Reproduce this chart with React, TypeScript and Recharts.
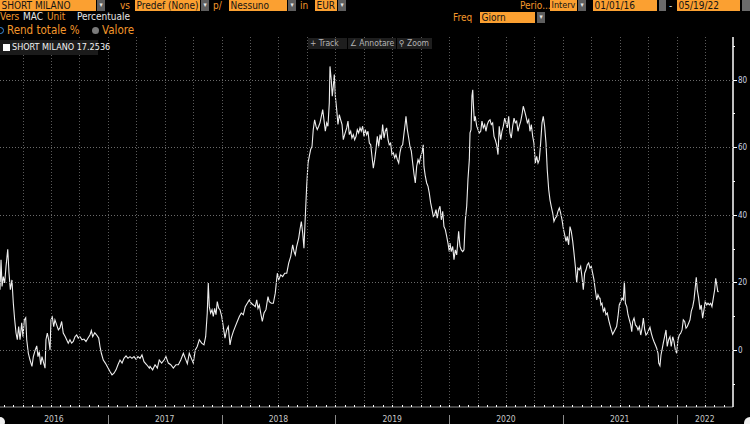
import React from 'react';
import { LineChart, Line, XAxis, YAxis } from 'recharts';

const FONT = '"Liberation Sans Narrow", "DejaVu Sans Condensed", "Arial Narrow", "Liberation Sans", Arial, sans-serif';
const ORANGE = '#fba031';
const ORANGE_TEXT = '#f3972b';

const SERIES_NAME = 'SHORT MILANO';
const LAST_VALUE = '17.2536';

// [decimal year, total return %]
const P2016: [number, number][] = [
  [2016.052, 17.8], [2016.061, 26.7], [2016.070, 18.8], [2016.081, 21.7], [2016.093, 19.8], [2016.105, 24.7],
  [2016.120, 29.8], [2016.131, 22.8], [2016.143, 17.8], [2016.157, 20.7], [2016.169, 13.9], [2016.181, 8.9],
  [2016.193, 5], [2016.204, 3], [2016.216, 6.9], [2016.228, 3], [2016.243, 8], [2016.254, 3.9],
  [2016.266, 8.9], [2016.278, 9.5], [2016.287, 3], [2016.301, -1], [2016.316, -3], [2016.333, -4.9],
  [2016.345, -2], [2016.362, 0], [2016.375, 1.2], [2016.386, -2], [2016.397, -0.5], [2016.410, -4.4],
  [2016.421, -2], [2016.436, -3.9], [2016.448, -5.4], [2016.456, 3], [2016.468, 5], [2016.480, 3],
  [2016.492, 0], [2016.500, 8.9], [2016.512, 9.7], [2016.524, 6.9], [2016.535, 8.9], [2016.550, 7.4],
  [2016.565, 5.9], [2016.579, 6.5], [2016.594, 8.4], [2016.608, 5], [2016.626, 3.9], [2016.638, 3],
  [2016.652, 2], [2016.667, 3], [2016.682, 2], [2016.696, 2.5], [2016.711, 3.9], [2016.726, 4.4],
  [2016.740, 3.5], [2016.755, 3.9], [2016.773, 3], [2016.790, 3.2], [2016.808, 2.5], [2016.826, 3.5],
  [2016.843, 4.4], [2016.855, 5.7], [2016.867, 3.9], [2016.885, 5.1], [2016.902, 4.4], [2016.920, 3.5],
  [2016.931, 1], [2016.943, -1], [2016.960, -3], [2016.978, -3.9], [2016.995, -4.9],
];

const P2017: [number, number][] = [
  [2017.019, -6.4], [2017.037, -7.4], [2017.054, -6.9], [2017.072, -5.9], [2017.089, -4.4], [2017.107, -3],
  [2017.125, -3.9], [2017.142, -2.5], [2017.160, -1.8], [2017.177, -2.5], [2017.195, -2], [2017.212, -2.5],
  [2017.230, -2], [2017.248, -2.8], [2017.265, -2], [2017.283, -2.5], [2017.300, -1.5], [2017.318, -3.5],
  [2017.342, -4.4], [2017.365, -5.4], [2017.371, -4.9], [2017.394, -5.9], [2017.415, -4.4], [2017.435, -5.4],
  [2017.452, -3], [2017.473, -3.9], [2017.494, -3], [2017.511, -2], [2017.532, -3.9], [2017.553, -4.4],
  [2017.576, -5.4], [2017.599, -4.4], [2017.620, -4.4], [2017.641, -3], [2017.664, -1], [2017.681, -2.5],
  [2017.699, -4.1], [2017.716, -1], [2017.734, -2.5], [2017.751, -3.9], [2017.769, 0], [2017.786, 1],
  [2017.804, 3], [2017.825, 2], [2017.845, 1.5], [2017.860, 3.9], [2017.874, 10.9], [2017.883, 19.8],
  [2017.892, 12.8], [2017.904, 10.9], [2017.916, 11.9], [2017.927, 9.9], [2017.939, 12.3], [2017.951, 10.4],
  [2017.962, 14.3], [2017.975, 12.3], [2017.986, 11.9],
];

const P2018: [number, number][] = [
  [2018.001, 9.9], [2018.015, 6.9], [2018.030, 3.5], [2018.045, 5.9], [2018.059, 6.9], [2018.074, 1.5],
  [2018.085, 3.5], [2018.103, 5.4], [2018.120, 6.9], [2018.138, 8.4], [2018.156, 9.9], [2018.173, 10.9],
  [2018.191, 10.4], [2018.208, 12.8], [2018.226, 13.8], [2018.244, 14.8], [2018.261, 13.8], [2018.279, 13.3],
  [2018.296, 12.8], [2018.309, 14.8], [2018.320, 12.3], [2018.332, 13.3], [2018.344, 10.9], [2018.358, 8.4],
  [2018.373, 10.9], [2018.390, 11.9], [2018.408, 15.8], [2018.419, 14.3], [2018.437, 13.8], [2018.455, 13.8],
  [2018.472, 16.8], [2018.490, 22.7], [2018.502, 20.7], [2018.520, 22.2], [2018.537, 21.7], [2018.555, 22.7],
  [2018.573, 22.7], [2018.590, 25.7], [2018.608, 27.7], [2018.625, 31.1], [2018.637, 29.1], [2018.648, 28.1],
  [2018.660, 30.6], [2018.678, 33.1], [2018.689, 35.6], [2018.701, 38], [2018.713, 34.6], [2018.724, 30.1],
  [2018.736, 39.5], [2018.748, 48.4], [2018.760, 55.3], [2018.771, 57.3], [2018.783, 59.3], [2018.795, 60.2],
  [2018.806, 65.2], [2018.818, 68.1], [2018.830, 66.2], [2018.841, 65.2], [2018.854, 66.2], [2018.865, 67.2],
  [2018.877, 69.1], [2018.889, 71.1], [2018.900, 68.1], [2018.912, 64.7], [2018.924, 67.2], [2018.935, 66.2],
  [2018.947, 73.1], [2018.953, 83.9], [2018.964, 80], [2018.973, 75.1], [2018.982, 78], [2018.991, 81.5],
];

const P2019: [number, number][] = [
  [2019.000, 75.1], [2019.012, 71.1], [2019.023, 66.7], [2019.035, 69.6], [2019.047, 68.1], [2019.059, 66.7],
  [2019.070, 62.2], [2019.082, 63.7], [2019.100, 65.7], [2019.111, 67.7], [2019.123, 63.7], [2019.135, 64.7],
  [2019.146, 62.7], [2019.158, 63.7], [2019.170, 62.2], [2019.182, 63.2], [2019.193, 65.2], [2019.205, 64.2],
  [2019.217, 65.7], [2019.228, 64.7], [2019.240, 66.2], [2019.252, 63.2], [2019.263, 65.2], [2019.276, 63.7],
  [2019.287, 64.7], [2019.299, 61.2], [2019.311, 60.7], [2019.322, 57.3], [2019.334, 53.8], [2019.346, 56.3],
  [2019.357, 59.3], [2019.369, 63.2], [2019.381, 60.2], [2019.393, 63.7], [2019.404, 62.2], [2019.416, 66.7],
  [2019.428, 62.7], [2019.439, 64.7], [2019.451, 65.7], [2019.463, 62.2], [2019.474, 60.7], [2019.486, 61.2],
  [2019.498, 57.8], [2019.510, 58.3], [2019.522, 56.8], [2019.533, 57.8], [2019.545, 56.3], [2019.557, 55.3],
  [2019.568, 58.3], [2019.580, 60.2], [2019.592, 60.7], [2019.604, 64.2], [2019.615, 67.2], [2019.621, 69.1],
  [2019.633, 65.2], [2019.645, 62.7], [2019.656, 60.2], [2019.668, 58.8], [2019.680, 55.3], [2019.692, 51.9],
  [2019.703, 49.4], [2019.715, 54.3], [2019.727, 56.3], [2019.738, 55.3], [2019.750, 57.3], [2019.762, 58.3],
  [2019.773, 60.7], [2019.779, 54.3], [2019.791, 51.4], [2019.803, 49.4], [2019.815, 48.4], [2019.826, 46.4],
  [2019.838, 43.5], [2019.850, 41.5], [2019.861, 39.5], [2019.873, 40], [2019.885, 41.5], [2019.896, 39],
  [2019.909, 41.5], [2019.920, 42.5], [2019.932, 38.5], [2019.944, 41], [2019.955, 36.5], [2019.967, 35.6],
  [2019.979, 33.6], [2019.990, 31.6],
];

const P2020: [number, number][] = [
  [2020.002, 29.1], [2020.008, 31.6], [2020.019, 29.1], [2020.032, 30.6], [2020.043, 26.7], [2020.055, 29.6],
  [2020.067, 28.1], [2020.078, 32.6], [2020.084, 35.1], [2020.096, 30.6], [2020.107, 29.6], [2020.120, 29.1],
  [2020.131, 29.6], [2020.143, 38.5], [2020.155, 42.5], [2020.166, 50.4], [2020.178, 56.3], [2020.184, 64.2],
  [2020.193, 65.2], [2020.201, 75.1], [2020.208, 77], [2020.213, 73.1], [2020.222, 67.7], [2020.230, 69.1],
  [2020.243, 66.2], [2020.254, 65.2], [2020.266, 64.2], [2020.278, 64.7], [2020.289, 67.7], [2020.301, 65.7],
  [2020.313, 66.7], [2020.324, 64.7], [2020.336, 66.7], [2020.348, 67.7], [2020.360, 68.1], [2020.371, 66.7],
  [2020.383, 67.2], [2020.395, 63.2], [2020.406, 62.2], [2020.418, 60.7], [2020.430, 57.8], [2020.441, 66.2],
  [2020.454, 62.2], [2020.465, 64.7], [2020.477, 66.2], [2020.489, 68.6], [2020.500, 67.2], [2020.512, 65.7],
  [2020.524, 69.1], [2020.535, 64.2], [2020.547, 62.7], [2020.559, 66.2], [2020.571, 68.6], [2020.582, 67.2],
  [2020.594, 67.7], [2020.606, 64.7], [2020.617, 66.2], [2020.630, 67.7], [2020.641, 69.6], [2020.652, 72.1],
  [2020.665, 70.6], [2020.676, 69.1], [2020.688, 67.2], [2020.700, 68.1], [2020.711, 64.7], [2020.723, 66.7],
  [2020.735, 63.2], [2020.746, 61.2], [2020.758, 55.3], [2020.770, 57.3], [2020.782, 55.3], [2020.793, 56.3],
  [2020.805, 61.2], [2020.817, 67.2], [2020.828, 69.1], [2020.840, 66.2], [2020.852, 61.2], [2020.863, 53.3],
  [2020.876, 47.4], [2020.887, 44.4], [2020.898, 42.5], [2020.911, 40.5], [2020.922, 38], [2020.934, 39],
  [2020.946, 39.5], [2020.957, 41], [2020.969, 42], [2020.981, 40.5], [2020.993, 38.5],
];

const P2021: [number, number][] = [
  [2021.004, 36], [2021.016, 34.1], [2021.028, 32.1], [2021.039, 33.6], [2021.051, 31.1], [2021.063, 36.5],
  [2021.074, 35.1], [2021.087, 32.1], [2021.098, 28.7], [2021.110, 24.7], [2021.122, 19.8], [2021.133, 24.2],
  [2021.145, 23.7], [2021.157, 24.7], [2021.168, 21.7], [2021.180, 17.8], [2021.192, 22.7], [2021.204, 23.7],
  [2021.215, 25.2], [2021.227, 25.7], [2021.239, 24.2], [2021.250, 24.7], [2021.262, 22.7], [2021.274, 20.7],
  [2021.285, 17.8], [2021.298, 14.8], [2021.309, 16.3], [2021.321, 15.3], [2021.327, 15.3], [2021.335, 13.3],
  [2021.344, 13.8], [2021.356, 11.4], [2021.368, 12.3], [2021.379, 10.4], [2021.391, 10.9], [2021.403, 8.9],
  [2021.414, 7.4], [2021.426, 5.9], [2021.438, 4.6], [2021.450, 5.4], [2021.461, 6.1], [2021.473, 6.9],
  [2021.485, 9.9], [2021.496, 13.3], [2021.509, 14.3], [2021.520, 15.3], [2021.532, 14.8], [2021.541, 20.2],
  [2021.550, 13.8], [2021.562, 12.8], [2021.573, 10.4], [2021.585, 8.9], [2021.597, 7.4], [2021.606, 5.4],
  [2021.614, 8.4], [2021.626, 9.4], [2021.638, 7.4], [2021.650, 6.9], [2021.661, 5.9], [2021.673, 6.9],
  [2021.685, 4.4], [2021.696, 6.4], [2021.708, 9.4], [2021.720, 5.9], [2021.731, 4.4], [2021.743, 4.9],
  [2021.755, 5.9], [2021.766, 6.7], [2021.778, 4.9], [2021.790, 3.5], [2021.801, 2.5], [2021.813, 1.5],
  [2021.825, 0.5], [2021.837, -1], [2021.843, -3.9], [2021.854, -4.7], [2021.863, -1.5], [2021.872, 0],
  [2021.883, 2], [2021.895, 3.9], [2021.907, 5.9], [2021.918, 1], [2021.930, 3], [2021.942, 3.9],
  [2021.953, 1], [2021.966, 3.9], [2021.977, 2.5], [2021.989, 0],
];

const P2022: [number, number][] = [
  [2022.001, -1], [2022.012, 3], [2022.024, 4.4], [2022.036, 4.9], [2022.048, 5.9], [2022.059, 8.9],
  [2022.071, 8.4], [2022.083, 6.4], [2022.094, 6.9], [2022.106, 7.9], [2022.118, 8.9], [2022.129, 11.4],
  [2022.142, 12.8], [2022.153, 14.8], [2022.165, 18.8], [2022.173, 21.5], [2022.182, 17.8], [2022.194, 15.3],
  [2022.206, 11.9], [2022.217, 13.3], [2022.229, 9.4], [2022.241, 11.9], [2022.252, 14.3], [2022.265, 13.3],
  [2022.276, 13.8], [2022.288, 13.3], [2022.300, 13.8], [2022.311, 12.8], [2022.323, 15.3], [2022.335, 17.8],
  [2022.344, 21.2], [2022.353, 19.3], [2022.362, 17.3], [2022.370, 17.2536],
];

const YEARS = [2016, 2017, 2018, 2019, 2020, 2021, 2022];
const YEAR_LABELS = ['2016', '2017', '2018', '2019', '2020', '2021', '2022'];
const Y_TICKS = [-10, 0, 10, 20, 30, 40, 50, 60, 70, 80, 90];
const Y_LABELED = [0, 20, 40, 60, 80];
const X_DOMAIN: [number, number] = [2016.052, 2022.496];
const Y_DOMAIN: [number, number] = [-16.9, 92.6];

// layout constants (pixels)
const CHART_W = 750;
const CHART_H = 424;
const PLOT_TOP = 37;
const Y_AXIS_W = 17;
const X_AXIS_H = 17;
const PLOT_W = CHART_W - Y_AXIS_W;
const PLOT_H = CHART_H - PLOT_TOP - X_AXIS_H;

const data = [...P2016, ...P2017, ...P2018, ...P2019, ...P2020, ...P2021, ...P2022].map(([t, v]) => ({ t, v }));

type TickInfo = { kind: 'month'; month: number } | { kind: 'label'; text: string };
const tickInfo = new Map<number, TickInfo>();
const monthTicks: number[] = [];
YEARS.forEach((yr) => {
  for (let m = 0; m < 12; m++) {
    const t = yr + m / 12;
    if (t >= X_DOMAIN[0] && t <= X_DOMAIN[1]) {
      monthTicks.push(t);
      tickInfo.set(t, { kind: 'month', month: m });
    }
  }
});
const labelTicks: number[] = [];
YEARS.forEach((yr, i) => {
  const a = Math.max(yr, X_DOMAIN[0]);
  const b = Math.min(yr + 1, X_DOMAIN[1]);
  const mid = (a + b) / 2 + 0.0001;
  labelTicks.push(mid);
  tickInfo.set(mid, { kind: 'label', text: YEAR_LABELS[i] });
});
const X_TICKS = [...monthTicks, ...labelTicks].sort((a, b) => a - b);

const XTick = (props: any) => {
  const { x, y, payload } = props;
  const info = tickInfo.get(payload.value);
  if (!info) return null;
  if (info.kind === 'label') {
    return (
      <text x={x} y={y + 15} textAnchor="middle" fill="#c8c8c8" fontSize={8.5} fontFamily={FONT}>
        {info.text}
      </text>
    );
  }
  const px = Math.round(x) + 0.5;
  return (
    <g>
      {info.month % 3 === 0 && (
        <line x1={px} x2={px} y1={y - PLOT_H} y2={y} stroke="#5a5a5a" strokeDasharray="1 2" strokeWidth={1} />
      )}
      <line x1={px} x2={px} y1={y - 2} y2={y} stroke="#ffffff" strokeWidth={1} />
      {info.month === 0 && <line x1={px} x2={px} y1={y + 8} y2={y + 17} stroke="#8a8a8a" strokeWidth={1} />}
    </g>
  );
};

const YTick = (props: any) => {
  const { x, y, payload } = props;
  const major = Y_LABELED.includes(payload.value);
  const py = Math.round(y) + 0.5;
  return (
    <g>
      {major && (
        <line x1={x - PLOT_W} x2={x} y1={py} y2={py} stroke="#6a6a6a" strokeDasharray="1 2" strokeWidth={1} />
      )}
      <line x1={x} x2={x + (major ? 4 : 2)} y1={py} y2={py} stroke="#ffffff" strokeWidth={1} />
      {major && (
        <text x={x + 5} y={y + 3} fill="#cdd5e3" fontSize={8} fontFamily={FONT}>
          {payload.value}
        </text>
      )}
    </g>
  );
};

const abs = (x: number, y: number, w: number, h: number): React.CSSProperties => ({
  position: 'absolute', left: x, top: y, width: w, height: h,
});

const Box = ({ x, y, w, text, size = 10 }: { x: number; y: number; w: number; text: string; size?: number }) => (
  <div style={{ ...abs(x, y, w, 11), background: ORANGE, color: '#141414', fontSize: size, lineHeight: '11px', paddingLeft: 1.5, boxSizing: 'border-box', whiteSpace: 'nowrap', overflow: 'hidden' }}>{text}</div>
);
const Btn = ({ x, y }: { x: number; y: number }) => (
  <div style={{ ...abs(x, y, 8, 11), background: '#5e5e5e', color: '#e8e8e8', fontSize: 7, lineHeight: '11px', textAlign: 'center' }}>▾</div>
);
const Lbl = ({ x, y, text, color, size = 10 }: { x: number; y: number; text: string; color: string; size?: number }) => (
  <div style={{ position: 'absolute', left: x, top: y, color, fontSize: size, lineHeight: '11px', whiteSpace: 'nowrap' }}>{text}</div>
);

export default function App() {
  return (
    <div style={{ position: 'absolute', left: 0, top: 0, width: CHART_W, height: CHART_H, background: '#000', overflow: 'hidden', fontFamily: FONT }}>
      <LineChart width={CHART_W} height={CHART_H} data={data} margin={{ top: PLOT_TOP, right: 0, bottom: 0, left: 0 }}>
        <XAxis
          dataKey="t" type="number" domain={X_DOMAIN} ticks={X_TICKS} interval={0}
          height={X_AXIS_H} tickSize={0} tickMargin={0} tick={<XTick />}
          axisLine={{ stroke: '#8c8c8c', strokeWidth: 1 }} tickLine={false} allowDataOverflow
        />
        <YAxis
          orientation="right" type="number" domain={Y_DOMAIN} ticks={Y_TICKS} interval={0}
          width={Y_AXIS_W} tickSize={0} tickMargin={0} tick={<YTick />}
          axisLine={{ stroke: '#ffffff', strokeWidth: 1.5 }} tickLine={false} allowDataOverflow
        />
        <Line type="linear" dataKey="v" stroke="#eeeeee" strokeWidth={1.1} dot={false} isAnimationActive={false} />
      </LineChart>

      {/* Row 1 */}
      <Box x={0} y={0} w={96} text={SERIES_NAME} />
      <Btn x={97} y={0} />
      <Lbl x={120} y={0} text="vs" color={ORANGE_TEXT} />
      <Box x={135} y={0} w={65} text="Predef (None)" />
      <Btn x={201} y={0} />
      <Lbl x={213} y={0} text="p/" color={ORANGE_TEXT} />
      <Box x={229} y={0} w={58} text="Nessuno" />
      <Btn x={288} y={0} />
      <Lbl x={300} y={0} text="in" color={ORANGE_TEXT} />
      <Box x={315} y={0} w={22} text="EUR" />
      <Btn x={338} y={0} />
      <Lbl x={520} y={0} text="Perio..." color={ORANGE_TEXT} />
      <Box x={550} y={0} w={27} text="Interv" size={9} />
      <Btn x={578} y={0} />
      <Box x={593} y={0} w={64} text="01/01/16" />
      <div style={{ ...abs(659, 0, 7, 11), background: '#6a6a6a' }} />
      <Lbl x={669} y={0} text="-" color="#dddddd" />
      <Box x={677} y={0} w={63} text="05/19/22" />
      <div style={{ ...abs(742, 0, 8, 11), background: '#6a6a6a' }} />

      {/* Row 2 */}
      <Lbl x={0} y={11} text="Vers" color={ORANGE_TEXT} />
      <Lbl x={23} y={11} text="MAC" color="#e6e6e6" />
      <Lbl x={47} y={11} text="Unit" color={ORANGE_TEXT} />
      <Lbl x={77} y={11} text="Percentuale" color="#e6e6e6" />
      <Lbl x={453} y={12} text="Freq" color={ORANGE_TEXT} />
      <Box x={480} y={12} w={55} text="Giorn" />
      <Btn x={537} y={12} />

      {/* Row 3 */}
      <div style={{ ...abs(-3, 27, 7, 7), borderRadius: '50%', border: '1.5px solid #3d8fe0', boxSizing: 'border-box' }} />
      <Lbl x={7} y={25} text="Rend totale %" color={ORANGE_TEXT} size={11.5} />
      <div style={{ ...abs(92, 27, 7, 7), borderRadius: '50%', background: '#7a7a7a' }} />
      <Lbl x={102} y={25} text="Valore" color={ORANGE_TEXT} size={11.5} />

      {/* Legend */}
      <div style={{ ...abs(0, 40, 98, 15), background: '#1b1b1b' }} />
      <div style={{ ...abs(3, 44, 7, 7), background: '#ffffff' }} />
      <Lbl x={12} y={42} text={`${SERIES_NAME} ${LAST_VALUE}`} color="#f2f2f2" size={9} />

      {/* Track / Annotare / Zoom */}
      <div style={{ ...abs(308, 38, 39, 11), background: '#1e1e1e' }} />
      <Lbl x={310} y={38} text="+ Track" color="#b5b5b5" size={8.5} />
      <div style={{ ...abs(348, 38, 48, 11), background: '#1e1e1e' }} />
      <Lbl x={350} y={38} text="∠ Annotare" color="#b5b5b5" size={8.5} />
      <div style={{ ...abs(397, 38, 35, 11), background: '#1e1e1e' }} />
      <Lbl x={399} y={38} text="⚲ Zoom" color="#b5b5b5" size={8.5} />

      {/* corner scroll markers */}
      <div style={{ ...abs(-5, 417, 10, 10), borderRadius: '50%', background: '#f0f0f0' }} />
      <div style={{ ...abs(744, 417, 12, 12), borderRadius: '50%', background: '#f0f0f0' }} />
    </div>
  );
}
